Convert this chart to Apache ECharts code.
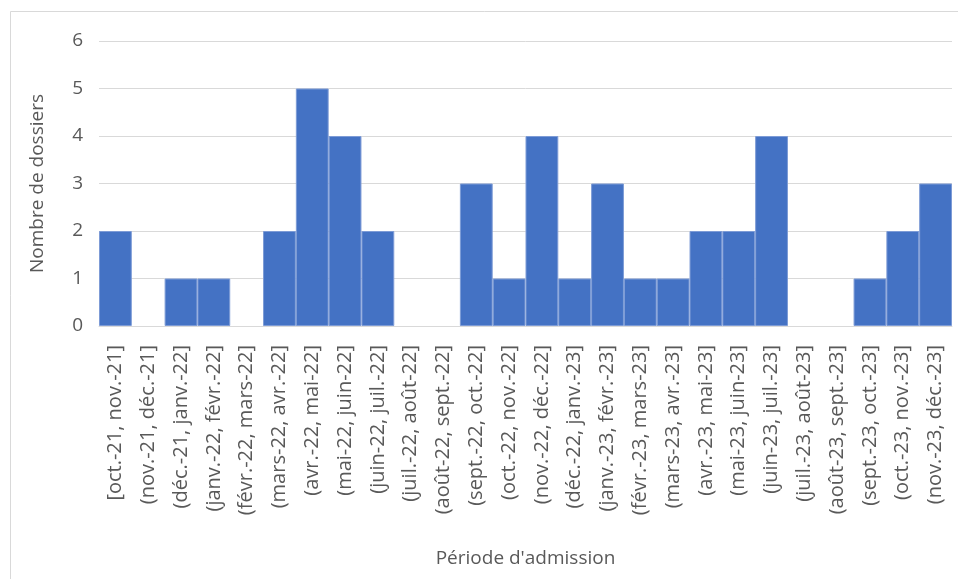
<!DOCTYPE html>
<html>
<head>
<meta charset="utf-8">
<script src="https://cdn.jsdelivr.net/npm/echarts@6/dist/echarts.min.js"></script>
<style>
  html, body { margin: 0; padding: 0; background: #fff; }
  #chart { width: 958px; height: 579px; }
</style>
</head>
<body>
<div id="chart"></div>
<script>
// Admission periods (monthly bins) and number of files per bin
const periods = [
  '[oct.-21, nov.-21]', '(nov.-21, déc.-21]', '(déc.-21, janv.-22]', '(janv.-22, févr.-22]',
  '(févr.-22, mars-22]', '(mars-22, avr.-22]', '(avr.-22, mai-22]', '(mai-22, juin-22]',
  '(juin-22, juil.-22]', '(juil.-22, août-22]', '(août-22, sept.-22]', '(sept.-22, oct.-22]',
  '(oct.-22, nov.-22]', '(nov.-22, déc.-22]', '(déc.-22, janv.-23]', '(janv.-23, févr.-23]',
  '(févr.-23, mars-23]', '(mars-23, avr.-23]', '(avr.-23, mai-23]', '(mai-23, juin-23]',
  '(juin-23, juil.-23]', '(juil.-23, août-23]', '(août-23, sept.-23]', '(sept.-23, oct.-23]',
  '(oct.-23, nov.-23]', '(nov.-23, déc.-23]'
];
const dossiers = [2, 0, 1, 1, 0, 2, 5, 4, 2, 0, 0, 3, 1, 4, 1, 3, 1, 1, 2, 2, 4, 0, 0, 1, 2, 3];
const yTicks = { min: 0, max: 6, interval: 1 };

const FONT = '"Open Sans", sans-serif';
const TEXT = '#595959';

// empty bins get no outline so nothing is drawn for them
const barData = dossiers.map(v => (v === 0 ? { value: v, itemStyle: { borderWidth: 0 } } : v));

const chart = echarts.init(document.getElementById('chart'), null, { renderer: 'canvas' });
chart.setOption({
  animation: false,
  backgroundColor: '#ffffff',
  graphic: [{
    type: 'rect',
    shape: { x: 10.5, y: 11.5, width: 960, height: 600 },
    style: { fill: 'none', stroke: '#d9d9d9', lineWidth: 1 },
    silent: true
  }],
  grid: { left: 99, right: 6, top: 41, bottom: 253, containLabel: false },
  xAxis: {
    type: 'category',
    data: periods,
    axisLine: { show: true, lineStyle: { color: '#d9d9d9', width: 1 } },
    axisTick: { show: false },
    axisLabel: {
      rotate: 90, interval: 0, margin: 19,
      color: TEXT, fontFamily: FONT, fontSize: 20
    },
    name: "Période d'admission",
    nameLocation: 'middle',
    nameGap: 223,
    nameTextStyle: { color: TEXT, fontFamily: FONT, fontSize: 19 }
  },
  yAxis: {
    type: 'value',
    min: yTicks.min, max: yTicks.max, interval: yTicks.interval,
    axisLine: { show: false },
    axisTick: { show: false },
    splitLine: { lineStyle: { color: '#d9d9d9', width: 1 } },
    axisLabel: { color: TEXT, fontFamily: FONT, fontSize: 19, margin: 16 },
    name: 'Nombre de dossiers',
    nameLocation: 'middle',
    nameGap: 52,
    nameTextStyle: { color: TEXT, fontFamily: FONT, fontSize: 19 }
  },
  series: [{
    type: 'bar',
    data: barData,
    barWidth: '100%',
    barGap: '0%',
    itemStyle: { color: '#4472c4', borderColor: '#7d9bd6', borderWidth: 1 }
  }]
});
</script>
</body>
</html>
